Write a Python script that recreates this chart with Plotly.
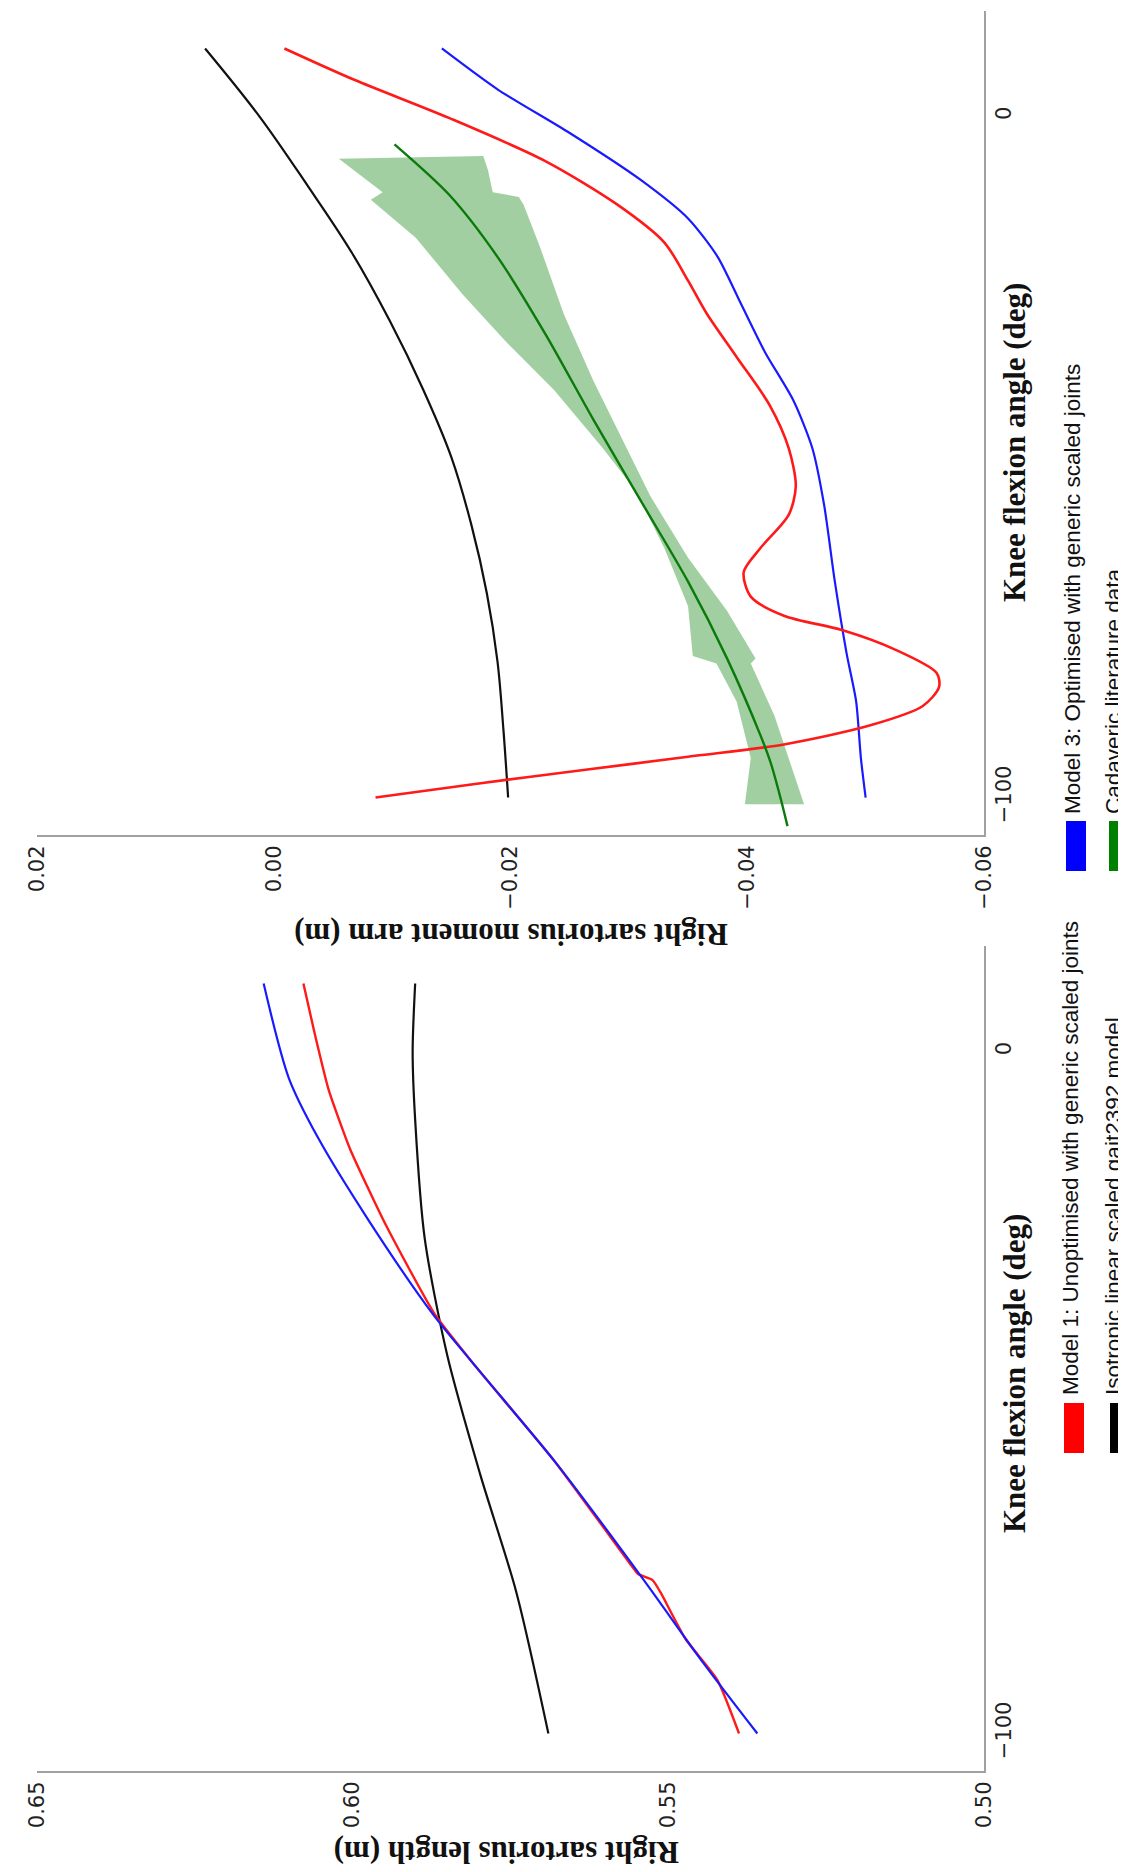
import plotly.graph_objects as go

W, H = 1126, 1872

# ---------------- data: moment arm panel (top) ----------------
ma_black_angle = [-100, -90, -80, -70, -60, -50, -40, -30, -20, -10, 0, 10]
ma_black_value = [-0.0198, -0.0194, -0.0189, -0.0180, -0.0167, -0.0150, -0.0126, -0.0098,
                  -0.0066, -0.0028, 0.0012, 0.0058]

ma_red_angle = [-100, -98, -96, -94.0, -92.2, -89.4, -86.6, -83.8, -81.7, -78.2, -75.4, -73.3,
                -70.5, -66.9, -63.4, -58.5, -54.3, -48.7, -42.4, -35.3, -29.0, -24.1, -18.5,
                -12.9, -6.5, -0.2, 5.4, 10]
ma_red_value = [-0.0086, -0.0170, -0.0260, -0.0350, -0.0431, -0.0504, -0.0548, -0.0562, -0.0560,
                -0.0524, -0.0480, -0.0431, -0.0403, -0.0397, -0.0411, -0.0435, -0.0441, -0.0435,
                -0.0419, -0.0391, -0.0366, -0.0350, -0.0330, -0.0290, -0.0229, -0.0148, -0.0068,
                -0.0009]

ma_blue_angle = [-100, -94.2, -85.9, -78.9, -68.3, -57.1, -48.7, -41.7, -34.6, -27.6, -20.6,
                 -14.96, -9.3, -2.3, 4.0, 10]
ma_blue_value = [-0.0500, -0.0496, -0.0492, -0.0484, -0.0474, -0.0465, -0.0455, -0.0439, -0.0415,
                 -0.0395, -0.0375, -0.0350, -0.0310, -0.0249, -0.0189, -0.0142]

ma_green_angle = [-104.2, -100, -95, -90.8, -79.6, -68.3, -56.4, -44.5, -31.8, -20.6, -11.45, -4.08]
ma_green_value = [-0.0434, -0.0428, -0.0420, -0.0411, -0.0383, -0.0350, -0.0310, -0.0270, -0.0229,
                  -0.0189, -0.0148, -0.0102]

# band polygon: upper edge (top -> bottom) then lower edge (bottom -> top)
band_angle = [-6.2, -11.1, -12.2, -17.8, -26.2, -33.2, -40.2, -48.7, -55.0, -63.4, -71.9, -79.2,
              -80.3, -85.9, -94.2, -101.0,
              -101.0, -94.2, -88.0, -80.3, -79.6, -72.6, -64.8, -55.7, -47.3, -38.8, -29.0,
              -19.2, -12.9, -11.8, -11.1, -7.9, -5.8]
band_value = [-0.0055, -0.0092, -0.0082, -0.0120, -0.0160, -0.0197, -0.0237, -0.0278, -0.0306,
              -0.0330, -0.0350, -0.0354, -0.0374, -0.0391, -0.0403, -0.0398,
              -0.0448, -0.0435, -0.0423, -0.0403, -0.0407, -0.0383, -0.0350, -0.0318, -0.0294,
              -0.0270, -0.0245, -0.0225, -0.0211, -0.0207, -0.0185, -0.0181, -0.0177]

# ---------------- data: length panel (bottom) ----------------
len_black_angle = [-100, -79.2, -62.0, -44.6, -27.3, -10.0, 0, 10]
len_black_value = [0.5690, 0.5741, 0.5798, 0.5850, 0.5886, 0.5901, 0.5905, 0.5901]

len_blue_angle = [-100, -89.6, -77.1, -60.2, -46.3, -38.5, -24.7, -12.6, -3.9, 10]
len_blue_value = [0.5359, 0.5445, 0.5542, 0.5679, 0.5804, 0.5873, 0.5975, 0.6055, 0.6101, 0.6141]

len_red_angle = [-100, -92.2, -86.1, -79.2, -77.5, -76.6, -75.8, -60.2, -46.3, -38.5, -25.5,
                 -14.3, -5.6, 3.0, 10]
len_red_value = [0.5388, 0.5422, 0.5473, 0.5513, 0.5525, 0.5548, 0.5555, 0.5679, 0.5804, 0.5870,
                 0.5947, 0.6004, 0.6038, 0.6061, 0.6078]

ma_ticks = [0.02, 0.00, -0.02, -0.04, -0.06]
ma_ticktext = ["0.02", "0.00", "\u22120.02", "\u22120.04", "\u22120.06"]
len_ticks = [0.65, 0.60, 0.55, 0.50]
len_ticktext = ["0.65", "0.60", "0.55", "0.50"]
angle_ticks = [-100, 0]
angle_ticktext = ["\u2212100", "0"]

legend_labels = ["Model 1: Unoptimised with generic scaled joints",
                 "Isotropic linear scaled gait2392 model",
                 "Model 3: Optimised with generic scaled joints",
                 "Cadaveric literature data"]
legend_colors = ["#ff0000", "#000000", "#0000ff", "#008000"]

RED, BLUE, BLACK, GREEN = "#ff1a1a", "#1a1aff", "#111111", "#0a7a0a"


def px(x):
    return x / W


def py(y):
    return 1 - y / H


fig = go.Figure()

# top panel (moment arm) -> xaxis/yaxis
fig.add_trace(go.Scatter(x=band_value, y=band_angle, fill="toself", mode="lines",
                         line=dict(width=0), fillcolor="rgba(30,140,30,0.42)",
                         xaxis="x", yaxis="y", hoverinfo="skip"))
fig.add_trace(go.Scatter(x=ma_black_value, y=ma_black_angle, mode="lines",
                         line=dict(color=BLACK, width=2.2, shape="spline", smoothing=1.0),
                         xaxis="x", yaxis="y"))
fig.add_trace(go.Scatter(x=ma_blue_value, y=ma_blue_angle, mode="lines",
                         line=dict(color=BLUE, width=2.2, shape="spline", smoothing=0.7),
                         xaxis="x", yaxis="y"))
fig.add_trace(go.Scatter(x=ma_red_value, y=ma_red_angle, mode="lines",
                         line=dict(color=RED, width=2.6, shape="spline", smoothing=0.8),
                         xaxis="x", yaxis="y"))
fig.add_trace(go.Scatter(x=ma_green_value, y=ma_green_angle, mode="lines",
                         line=dict(color=GREEN, width=2.4, shape="spline", smoothing=0.8),
                         xaxis="x", yaxis="y"))

# bottom panel (length) -> xaxis2/yaxis2
fig.add_trace(go.Scatter(x=len_black_value, y=len_black_angle, mode="lines",
                         line=dict(color=BLACK, width=2.2, shape="spline", smoothing=0.8),
                         xaxis="x2", yaxis="y2"))
fig.add_trace(go.Scatter(x=len_red_value, y=len_red_angle, mode="lines",
                         line=dict(color=RED, width=2.4, shape="spline", smoothing=0.5),
                         xaxis="x2", yaxis="y2"))
fig.add_trace(go.Scatter(x=len_blue_value, y=len_blue_angle, mode="lines",
                         line=dict(color=BLUE, width=2.2, shape="spline", smoothing=0.8),
                         xaxis="x2", yaxis="y2"))

tickfont = dict(family="DejaVu Sans", size=21, color="#222222")
spine = dict(showline=True, linecolor="#a0a0a0", linewidth=2, showgrid=False,
             zeroline=False, ticks="", automargin=False, tickfont=tickfont, tickangle=-90)

xdom = [px(29), px(976)]
fig.update_layout(
    width=W, height=H,
    margin=dict(l=0, r=0, t=0, b=0),
    paper_bgcolor="white", plot_bgcolor="white",
    showlegend=False,
    xaxis=dict(domain=xdom, range=[0.02, -0.06], tickvals=ma_ticks, ticktext=ma_ticktext,
               anchor="y", **spine),
    yaxis=dict(domain=[py(827), py(3)], range=[-105.5, 15.5], tickvals=angle_ticks,
               ticktext=angle_ticktext, side="right", anchor="x", **spine),
    xaxis2=dict(domain=xdom, range=[0.65, 0.50], tickvals=len_ticks, ticktext=len_ticktext,
                anchor="y2", **spine),
    yaxis2=dict(domain=[py(1763), py(938)], range=[-105.5, 15.5], tickvals=angle_ticks,
                ticktext=angle_ticktext, side="right", anchor="x2", **spine),
)

title_font = dict(family="Liberation Serif", size=31, color="#111111")
annos = [
    dict(text="<b>Knee flexion angle (deg)</b>", x=px(1006), y=py(435), textangle=-90),
    dict(text="<b>Knee flexion angle (deg)</b>", x=px(1006), y=py(1366), textangle=-90),
    dict(text="<b>Right sartorius moment arm (m)</b>", x=px(503), y=py(927), textangle=180),
    dict(text="<b>Right sartorius length (m)</b>", x=px(499), y=py(1845), textangle=180),
]
for a in annos:
    fig.add_annotation(xref="paper", yref="paper", showarrow=False, font=title_font,
                       xanchor="center", yanchor="middle", **a)

# legend (rotated) built from shapes + annotations
leg_font = dict(family="Liberation Sans", size=22.5, color="#111111")
# positions: (square centre px, text centre px, square top px, text bottom px)
leg_pos = [(1066, 1062, 1395, 1388), (1112, 1105, 1395, 1388),
           (1068, 1064, 813, 807), (1111, 1105, 813, 807)]
for label, color, (sx, tx, sq_top, txt_bottom) in zip(legend_labels, legend_colors, leg_pos):
    fig.add_shape(type="rect", xref="paper", yref="paper",
                  x0=px(sx - 10), x1=px(sx + 10), y0=py(sq_top + 50), y1=py(sq_top),
                  fillcolor=color, line=dict(width=0))
    fig.add_annotation(xref="paper", yref="paper", showarrow=False, text=label,
                       x=px(tx), y=py(txt_bottom), xanchor="center", yanchor="bottom",
                       textangle=-90, font=leg_font, borderpad=0)

fig.write_html("out.html")
